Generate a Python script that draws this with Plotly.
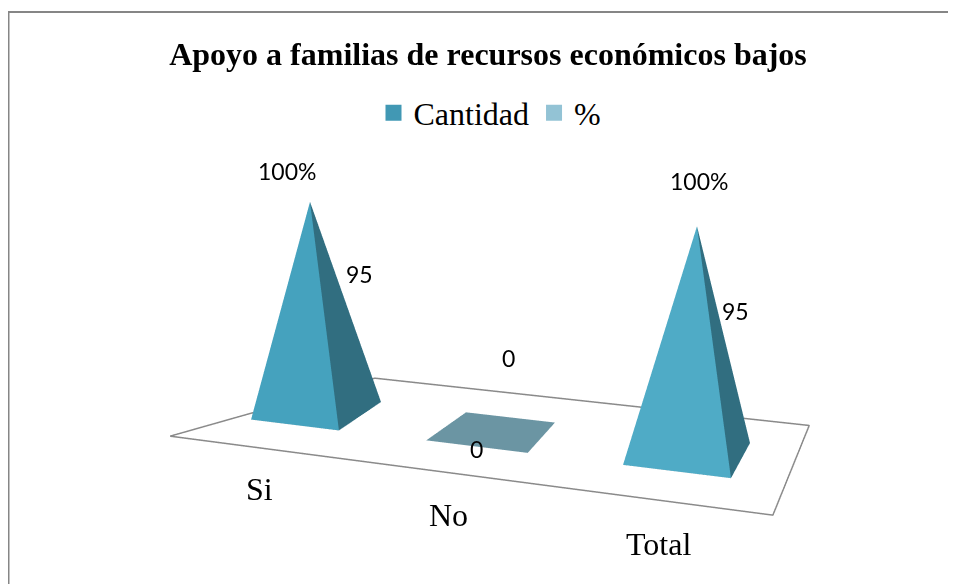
import plotly.graph_objects as go

# ---- chart values ----
titulo = "Apoyo a familias de recursos económicos bajos"
categories = ["Si", "No", "Total"]
series = ["Cantidad", "%"]
cantidad = [95, 0, 95]
etiquetas_cantidad = ["95", "0", "95"]
etiquetas_porcentaje = ["100%", "0", "100%"]

# ---- figure and page geometry ----
W, H = 948, 576   # the page body adds an 8 px margin
OFF = 8
ZMAX = 100

# ---- 3D view of the floor and pyramids ----
EYE = dict(x=0.12971, y=-1.32589, z=0.20866)
CENTER = dict(x=-0.23492, y=0.73423, z=-0.05717)
UP = dict(x=-0.17285, y=0.59165, z=1)
ASPECT = dict(x=4 / 3, y=0.53057, z=0.44200)
SHEAR_XY, SHEAR_XZ, SHEAR_YZ = 0.57017, -0.12331, 0.03820
CENTROS = [0.36422, 1.41066, 2.46731]
SEMIANCHO = [0.26698, 0.28145, 0.27106]
FONDO_INI = [0.25110, 0.25977, 0.25811]
FONDO_FIN = [0.64314, 0.63620, 0.66115]
DESV_FONDO = [-0.18779, -0.11579, -0.01791]
APICE_X = [0.00852, 0.0, -0.00852]
APICE_Y = [-0.09122, 0.0, 0.09122]

COLOR_FRENTE = ["#45A2BE", "#6B95A3", "#4FABC6"]
COLOR_LADO = ["#316E80", "#6B95A3", "#316E80"]
COLOR_SERIES = ["#4198B4", "#93C3D5"]
COLOR_BORDE = "#868686"
COLOR_PISO = "#8A8A8A"

POS_PORCENTAJE = [(287, 171), (508, 358), (699, 181)]
POS_CANTIDAD = [(359, 274), (476, 449), (735, 311)]
POS_CATEGORIA = [(259, 489), (448, 515), (658, 544)]


def tx(x, y, z):
    return x + SHEAR_XY * (y - 0.5) + SHEAR_XZ * z / ZMAX


def ty(y, z):
    return y + SHEAR_YZ * z / ZMAX


def pxp(x, y):
    return (x - OFF) / W, 1 - (y - OFF) / H


fig = go.Figure()

base = [(-1, -1), (1, -1), (1, 1), (-1, 1)]
for i, v in enumerate(cantidad):
    bx = [CENTROS[i] + a * SEMIANCHO[i] + (DESV_FONDO[i] if b > 0 else 0) for a, b in base]
    by = [FONDO_INI[i] if b < 0 else FONDO_FIN[i] for a, b in base]
    bx.append(CENTROS[i] + APICE_X[i])
    by.append((FONDO_INI[i] + FONDO_FIN[i]) / 2 + APICE_Y[i])
    bz = [0, 0, 0, 0, v]
    colores = (
        [COLOR_FRENTE[i], COLOR_LADO[i], COLOR_LADO[i], COLOR_FRENTE[i], COLOR_LADO[i]]
        if v else [COLOR_FRENTE[i]] * 5
    )
    fig.add_trace(go.Mesh3d(
        x=[tx(a, b, c) for a, b, c in zip(bx, by, bz)],
        y=[ty(b, c) for b, c in zip(by, bz)],
        z=bz,
        i=[0, 1, 2, 3, 0], j=[1, 2, 3, 0, 1], k=[4, 4, 4, 4, 2],
        facecolor=colores, flatshading=True,
        lighting=dict(ambient=1, diffuse=0, specular=0, fresnel=0),
        hoverinfo="skip", showlegend=False,
    ))

piso_x = [0, len(categories), len(categories), 0, 0]
piso_y = [0, 0, 1, 1, 0]
fig.add_trace(go.Scatter3d(
    x=[tx(a, b, 0) for a, b in zip(piso_x, piso_y)], y=piso_y, z=[0] * 5,
    mode="lines", line=dict(color=COLOR_PISO, width=3),
    showlegend=False, hoverinfo="skip",
))

for nombre, color in zip(series, COLOR_SERIES):
    fig.add_trace(go.Scatter3d(
        x=[None], y=[None], z=[None], mode="markers", name=nombre,
        marker=dict(symbol="square", size=17, color=color),
    ))

sans = dict(family="Lato", size=23, color="#000")
serif = dict(family="Liberation Serif", size=32, color="#000")
anotaciones = []
for textos, posiciones, fuente in (
    (etiquetas_porcentaje, POS_PORCENTAJE, sans),
    (etiquetas_cantidad, POS_CANTIDAD, sans),
    (categories, POS_CATEGORIA, serif),
):
    for t, (px, py) in zip(textos, posiciones):
        a, b = pxp(px, py)
        anotaciones.append(dict(text=t, xref="paper", yref="paper", x=a, y=b,
                                xanchor="center", yanchor="middle", showarrow=False, font=fuente))

borde = [
    dict(type="line", xref="paper", yref="paper", x0=0.5 / W, x1=0.5 / W, y0=0, y1=1 - 4 / H,
         line=dict(color=COLOR_BORDE, width=2)),
    dict(type="line", xref="paper", yref="paper", x0=0, x1=1, y0=1 - 4 / H, y1=1 - 4 / H,
         line=dict(color=COLOR_BORDE, width=2)),
]

lx, ly = pxp(490, 113)
tix, tiy = pxp(488, 54)
oculto = dict(visible=False)
fig.update_layout(
    width=W, height=H, margin=dict(l=0, r=0, t=0, b=0), paper_bgcolor="white",
    title=dict(text="<b>" + titulo + "</b>", x=tix, y=tiy, xanchor="center", yanchor="middle",
               xref="paper", yref="paper",
               font=dict(family="Liberation Serif", size=32, color="#000")),
    legend=dict(orientation="h", x=lx, y=ly, xanchor="center", yanchor="middle",
                font=dict(family="Liberation Serif", size=32, color="#000")),
    shapes=borde, annotations=anotaciones,
    scene=dict(
        domain=dict(x=[0, 1], y=[0, 1]), aspectmode="manual", aspectratio=ASPECT,
        xaxis=dict(oculto, range=[-0.5, 3.5]),
        yaxis=dict(oculto, range=[0, 1]),
        zaxis=dict(oculto, range=[0, ZMAX]),
        camera=dict(eye=EYE, center=CENTER, up=UP),
    ),
)
fig.write_html("out.html")
